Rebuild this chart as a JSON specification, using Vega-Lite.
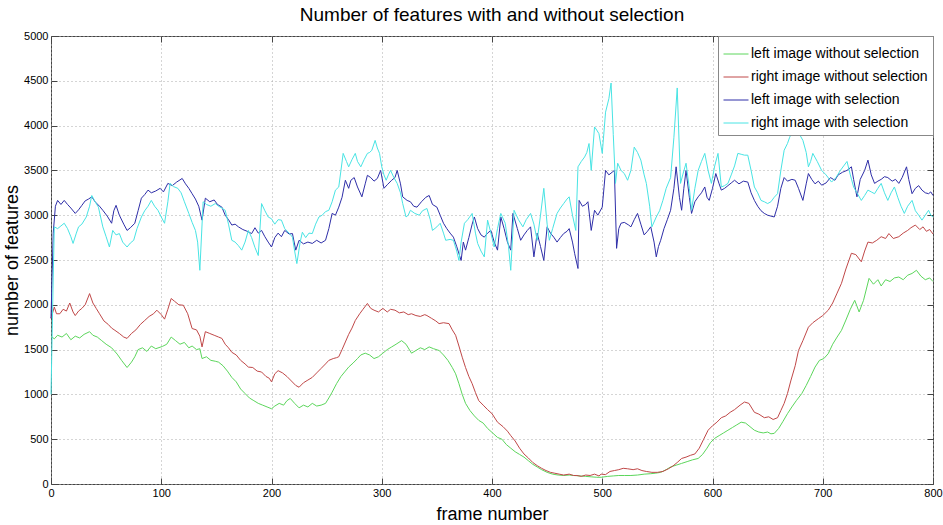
{
  "$schema": "https://vega.github.io/schema/vega-lite/v6.json",
  "width": 882,
  "height": 448,
  "autosize": {"type": "none"},
  "padding": {"left": 51, "top": 36, "right": 10, "bottom": 41},
  "background": "white",
  "title": {"text": "Number of features with and without selection", "fontSize": 19, "font": "Liberation Sans", "fontWeight": "normal", "color": "black", "offset": 5},
  "config": {
    "view": {"stroke": "#444", "strokeWidth": 1},
    "axis": {"labelFont": "Liberation Sans", "labelFontSize": 11, "labelColor": "black", "titleFont": "Liberation Sans", "titleFontSize": 18, "titleFontWeight": "normal", "titleColor": "black", "domain": false, "tickColor": "#444", "gridColor": "#aaa", "gridDash": [1, 3], "gridOpacity": 1, "format": "d", "labelFlush": false},
    "legend": {"labelFont": "Liberation Sans", "labelFontSize": 14, "labelColor": "black", "labelLimit": 400}
  },
  "datasets": {
    "green": [
      {"frame":0,"features":1650},{"frame":3,"features":1620},{"frame":6,"features":1660},{"frame":10,"features":1640},{"frame":14,"features":1680},{"frame":18,"features":1610},{"frame":22,"features":1650},{"frame":26,"features":1630},{"frame":30,"features":1670},{"frame":35,"features":1700},{"frame":38,"features":1660},{"frame":42,"features":1640},{"frame":46,"features":1600},{"frame":50,"features":1560},{"frame":55,"features":1520},{"frame":60,"features":1450},{"frame":64,"features":1380},{"frame":69,"features":1300},{"frame":73,"features":1360},{"frame":76,"features":1420},{"frame":79,"features":1500},{"frame":83,"features":1520},{"frame":87,"features":1480},{"frame":91,"features":1540},{"frame":95,"features":1510},{"frame":101,"features":1535},{"frame":105,"features":1560},{"frame":109,"features":1640},{"frame":113,"features":1600},{"frame":117,"features":1560},{"frame":121,"features":1580},{"frame":125,"features":1520},{"frame":128,"features":1540},{"frame":132,"features":1500},{"frame":135,"features":1510},{"frame":137,"features":1400},{"frame":141,"features":1420},{"frame":145,"features":1380},{"frame":149,"features":1370},{"frame":152,"features":1360},{"frame":156,"features":1320},{"frame":160,"features":1260},{"frame":164,"features":1190},{"frame":168,"features":1140},{"frame":172,"features":1060},{"frame":176,"features":1010},{"frame":180,"features":960},{"frame":184,"features":930},{"frame":188,"features":900},{"frame":192,"features":880},{"frame":196,"features":860},{"frame":200,"features":840},{"frame":203,"features":870},{"frame":207,"features":900},{"frame":211,"features":880},{"frame":214,"features":930},{"frame":217,"features":955},{"frame":221,"features":900},{"frame":225,"features":850},{"frame":229,"features":880},{"frame":233,"features":860},{"frame":237,"features":900},{"frame":241,"features":870},{"frame":245,"features":880},{"frame":249,"features":900},{"frame":252,"features":960},{"frame":255,"features":1025},{"frame":259,"features":1120},{"frame":263,"features":1200},{"frame":267,"features":1260},{"frame":270,"features":1305},{"frame":274,"features":1350},{"frame":278,"features":1400},{"frame":281,"features":1440},{"frame":285,"features":1460},{"frame":289,"features":1440},{"frame":293,"features":1400},{"frame":297,"features":1420},{"frame":301,"features":1460},{"frame":305,"features":1500},{"frame":309,"features":1530},{"frame":313,"features":1560},{"frame":318,"features":1600},{"frame":322,"features":1560},{"frame":327,"features":1460},{"frame":331,"features":1490},{"frame":335,"features":1520},{"frame":339,"features":1500},{"frame":343,"features":1530},{"frame":347,"features":1510},{"frame":352,"features":1490},{"frame":356,"features":1440},{"frame":360,"features":1380},{"frame":364,"features":1300},{"frame":367,"features":1230},{"frame":370,"features":1120},{"frame":373,"features":1000},{"frame":376,"features":900},{"frame":380,"features":820},{"frame":384,"features":760},{"frame":388,"features":710},{"frame":392,"features":680},{"frame":396,"features":620},{"frame":401,"features":565},{"frame":405,"features":520},{"frame":409,"features":500},{"frame":413,"features":440},{"frame":417,"features":400},{"frame":421,"features":360},{"frame":425,"features":330},{"frame":429,"features":300},{"frame":433,"features":260},{"frame":437,"features":220},{"frame":441,"features":190},{"frame":445,"features":160},{"frame":450,"features":130},{"frame":455,"features":110},{"frame":460,"features":100},{"frame":465,"features":95},{"frame":470,"features":100},{"frame":474,"features":95},{"frame":480,"features":90},{"frame":485,"features":85},{"frame":490,"features":80},{"frame":495,"features":75},{"frame":499,"features":75},{"frame":505,"features":85},{"frame":510,"features":90},{"frame":515,"features":95},{"frame":520,"features":95},{"frame":526,"features":95},{"frame":532,"features":100},{"frame":538,"features":110},{"frame":544,"features":115},{"frame":548,"features":120},{"frame":553,"features":130},{"frame":558,"features":160},{"frame":562,"features":190},{"frame":567,"features":210},{"frame":572,"features":230},{"frame":577,"features":250},{"frame":582,"features":270},{"frame":587,"features":285},{"frame":591,"features":330},{"frame":595,"features":400},{"frame":598,"features":460},{"frame":602,"features":510},{"frame":606,"features":540},{"frame":610,"features":570},{"frame":614,"features":600},{"frame":618,"features":630},{"frame":622,"features":660},{"frame":626,"features":690},{"frame":630,"features":680},{"frame":634,"features":640},{"frame":638,"features":600},{"frame":642,"features":580},{"frame":646,"features":570},{"frame":650,"features":580},{"frame":653,"features":560},{"frame":656,"features":565},{"frame":660,"features":620},{"frame":664,"features":700},{"frame":668,"features":785},{"frame":672,"features":860},{"frame":676,"features":930},{"frame":681,"features":1010},{"frame":685,"features":1100},{"frame":689,"features":1200},{"frame":693,"features":1305},{"frame":697,"features":1380},{"frame":701,"features":1400},{"frame":705,"features":1455},{"frame":709,"features":1560},{"frame":713,"features":1640},{"frame":717,"features":1715},{"frame":721,"features":1830},{"frame":725,"features":1950},{"frame":729,"features":2050},{"frame":733,"features":1920},{"frame":737,"features":2050},{"frame":742,"features":2295},{"frame":746,"features":2230},{"frame":750,"features":2280},{"frame":753,"features":2210},{"frame":757,"features":2280},{"frame":761,"features":2260},{"frame":765,"features":2300},{"frame":769,"features":2310},{"frame":773,"features":2280},{"frame":777,"features":2330},{"frame":781,"features":2350},{"frame":785,"features":2385},{"frame":789,"features":2320},{"frame":793,"features":2280},{"frame":797,"features":2300},{"frame":800,"features":2260}
    ],
    "red": [
      {"frame":0,"features":1850},{"frame":3,"features":1975},{"frame":5,"features":1900},{"frame":8,"features":1900},{"frame":11,"features":1950},{"frame":14,"features":1930},{"frame":17,"features":2020},{"frame":20,"features":1920},{"frame":22,"features":1880},{"frame":25,"features":1930},{"frame":28,"features":1960},{"frame":31,"features":2000},{"frame":35,"features":2125},{"frame":38,"features":2020},{"frame":41,"features":1960},{"frame":44,"features":1900},{"frame":48,"features":1820},{"frame":52,"features":1780},{"frame":55,"features":1740},{"frame":58,"features":1715},{"frame":62,"features":1680},{"frame":66,"features":1640},{"frame":69,"features":1625},{"frame":73,"features":1680},{"frame":77,"features":1720},{"frame":81,"features":1780},{"frame":85,"features":1825},{"frame":89,"features":1870},{"frame":93,"features":1900},{"frame":96,"features":1940},{"frame":100,"features":1890},{"frame":103,"features":1840},{"frame":106,"features":1950},{"frame":109,"features":2070},{"frame":112,"features":2040},{"frame":116,"features":2000},{"frame":120,"features":1995},{"frame":124,"features":1900},{"frame":128,"features":1735},{"frame":132,"features":1720},{"frame":135,"features":1650},{"frame":137,"features":1530},{"frame":140,"features":1700},{"frame":144,"features":1680},{"frame":148,"features":1660},{"frame":152,"features":1640},{"frame":155,"features":1625},{"frame":158,"features":1560},{"frame":161,"features":1520},{"frame":164,"features":1470},{"frame":168,"features":1440},{"frame":172,"features":1380},{"frame":176,"features":1340},{"frame":179,"features":1305},{"frame":183,"features":1300},{"frame":187,"features":1260},{"frame":191,"features":1250},{"frame":195,"features":1200},{"frame":198,"features":1180},{"frame":200,"features":1140},{"frame":203,"features":1230},{"frame":206,"features":1265},{"frame":210,"features":1240},{"frame":214,"features":1200},{"frame":218,"features":1150},{"frame":222,"features":1100},{"frame":225,"features":1080},{"frame":229,"features":1130},{"frame":233,"features":1160},{"frame":237,"features":1190},{"frame":241,"features":1240},{"frame":245,"features":1290},{"frame":249,"features":1340},{"frame":252,"features":1380},{"frame":256,"features":1400},{"frame":259,"features":1410},{"frame":261,"features":1420},{"frame":264,"features":1500},{"frame":267,"features":1585},{"frame":270,"features":1670},{"frame":273,"features":1740},{"frame":276,"features":1825},{"frame":280,"features":1900},{"frame":283,"features":1950},{"frame":287,"features":2015},{"frame":290,"features":1960},{"frame":293,"features":1940},{"frame":297,"features":1920},{"frame":301,"features":1960},{"frame":305,"features":1920},{"frame":308,"features":1950},{"frame":312,"features":1940},{"frame":316,"features":1910},{"frame":320,"features":1920},{"frame":324,"features":1890},{"frame":327,"features":1900},{"frame":331,"features":1880},{"frame":335,"features":1870},{"frame":339,"features":1890},{"frame":341,"features":1880},{"frame":345,"features":1850},{"frame":349,"features":1820},{"frame":352,"features":1790},{"frame":356,"features":1800},{"frame":361,"features":1790},{"frame":364,"features":1720},{"frame":367,"features":1660},{"frame":370,"features":1540},{"frame":373,"features":1415},{"frame":376,"features":1300},{"frame":379,"features":1200},{"frame":382,"features":1120},{"frame":385,"features":1020},{"frame":388,"features":930},{"frame":392,"features":880},{"frame":396,"features":830},{"frame":400,"features":785},{"frame":405,"features":690},{"frame":410,"features":640},{"frame":414,"features":590},{"frame":417,"features":540},{"frame":421,"features":480},{"frame":425,"features":400},{"frame":429,"features":335},{"frame":433,"features":290},{"frame":437,"features":240},{"frame":441,"features":205},{"frame":445,"features":175},{"frame":449,"features":150},{"frame":453,"features":130},{"frame":457,"features":120},{"frame":461,"features":110},{"frame":465,"features":100},{"frame":470,"features":110},{"frame":474,"features":95},{"frame":477,"features":95},{"frame":481,"features":85},{"frame":485,"features":100},{"frame":489,"features":95},{"frame":493,"features":110},{"frame":497,"features":90},{"frame":499,"features":110},{"frame":503,"features":105},{"frame":507,"features":140},{"frame":511,"features":150},{"frame":515,"features":160},{"frame":519,"features":175},{"frame":523,"features":170},{"frame":528,"features":160},{"frame":532,"features":170},{"frame":536,"features":150},{"frame":540,"features":140},{"frame":545,"features":130},{"frame":550,"features":130},{"frame":555,"features":140},{"frame":560,"features":170},{"frame":564,"features":200},{"frame":568,"features":240},{"frame":572,"features":285},{"frame":576,"features":300},{"frame":580,"features":320},{"frame":584,"features":335},{"frame":588,"features":400},{"frame":592,"features":500},{"frame":596,"features":600},{"frame":600,"features":650},{"frame":604,"features":690},{"frame":608,"features":740},{"frame":612,"features":760},{"frame":616,"features":800},{"frame":620,"features":830},{"frame":625,"features":880},{"frame":629,"features":915},{"frame":633,"features":900},{"frame":638,"features":800},{"frame":642,"features":780},{"frame":647,"features":740},{"frame":651,"features":750},{"frame":655,"features":720},{"frame":659,"features":740},{"frame":662,"features":820},{"frame":665,"features":900},{"frame":668,"features":1010},{"frame":671,"features":1150},{"frame":675,"features":1320},{"frame":678,"features":1490},{"frame":682,"features":1600},{"frame":687,"features":1750},{"frame":691,"features":1800},{"frame":696,"features":1845},{"frame":700,"features":1880},{"frame":705,"features":1940},{"frame":709,"features":2020},{"frame":713,"features":2130},{"frame":717,"features":2240},{"frame":721,"features":2400},{"frame":726,"features":2575},{"frame":730,"features":2560},{"frame":735,"features":2480},{"frame":738,"features":2600},{"frame":741,"features":2700},{"frame":745,"features":2690},{"frame":749,"features":2720},{"frame":753,"features":2760},{"frame":757,"features":2740},{"frame":760,"features":2795},{"frame":764,"features":2740},{"frame":769,"features":2760},{"frame":773,"features":2800},{"frame":777,"features":2830},{"frame":780,"features":2860},{"frame":784,"features":2890},{"frame":788,"features":2840},{"frame":791,"features":2870},{"frame":794,"features":2820},{"frame":797,"features":2840},{"frame":800,"features":2790}
    ],
    "blue": [
      {"frame":0,"features":1850},{"frame":2,"features":2800},{"frame":4,"features":3100},{"frame":6,"features":3165},{"frame":9,"features":3120},{"frame":12,"features":3165},{"frame":15,"features":3120},{"frame":18,"features":3080},{"frame":22,"features":3020},{"frame":25,"features":3060},{"frame":28,"features":3110},{"frame":31,"features":3160},{"frame":34,"features":3180},{"frame":37,"features":3205},{"frame":40,"features":3150},{"frame":44,"features":3100},{"frame":47,"features":3055},{"frame":51,"features":2990},{"frame":55,"features":2910},{"frame":57,"features":3050},{"frame":59,"features":3110},{"frame":62,"features":3000},{"frame":66,"features":2900},{"frame":69,"features":2830},{"frame":72,"features":2860},{"frame":76,"features":2910},{"frame":79,"features":3050},{"frame":82,"features":3190},{"frame":85,"features":3230},{"frame":88,"features":3280},{"frame":91,"features":3250},{"frame":95,"features":3270},{"frame":99,"features":3300},{"frame":102,"features":3260},{"frame":106,"features":3355},{"frame":110,"features":3330},{"frame":114,"features":3370},{"frame":119,"features":3410},{"frame":122,"features":3350},{"frame":125,"features":3300},{"frame":128,"features":3240},{"frame":131,"features":3180},{"frame":134,"features":3100},{"frame":137,"features":2945},{"frame":140,"features":3190},{"frame":144,"features":3150},{"frame":148,"features":3170},{"frame":151,"features":3120},{"frame":155,"features":3090},{"frame":158,"features":3000},{"frame":161,"features":2950},{"frame":164,"features":2890},{"frame":167,"features":2900},{"frame":170,"features":2870},{"frame":174,"features":2840},{"frame":178,"features":2820},{"frame":182,"features":2795},{"frame":185,"features":2860},{"frame":188,"features":2800},{"frame":191,"features":2830},{"frame":194,"features":2760},{"frame":197,"features":2700},{"frame":200,"features":2645},{"frame":203,"features":2750},{"frame":206,"features":2800},{"frame":209,"features":2760},{"frame":212,"features":2830},{"frame":216,"features":2790},{"frame":219,"features":2795},{"frame":222,"features":2610},{"frame":225,"features":2720},{"frame":229,"features":2680},{"frame":233,"features":2700},{"frame":237,"features":2685},{"frame":241,"features":2720},{"frame":245,"features":2690},{"frame":249,"features":2720},{"frame":252,"features":2850},{"frame":255,"features":3020},{"frame":258,"features":3000},{"frame":261,"features":3090},{"frame":264,"features":3200},{"frame":267,"features":3390},{"frame":270,"features":3300},{"frame":272,"features":3390},{"frame":275,"features":3420},{"frame":278,"features":3315},{"frame":282,"features":3205},{"frame":285,"features":3350},{"frame":287,"features":3445},{"frame":290,"features":3420},{"frame":293,"features":3380},{"frame":296,"features":3410},{"frame":299,"features":3500},{"frame":302,"features":3300},{"frame":305,"features":3340},{"frame":309,"features":3390},{"frame":312,"features":3420},{"frame":314,"features":3500},{"frame":317,"features":3350},{"frame":319,"features":3205},{"frame":323,"features":3165},{"frame":326,"features":3150},{"frame":329,"features":3100},{"frame":332,"features":3090},{"frame":336,"features":3150},{"frame":340,"features":3200},{"frame":343,"features":3220},{"frame":346,"features":3120},{"frame":350,"features":3090},{"frame":353,"features":3000},{"frame":356,"features":2910},{"frame":359,"features":2850},{"frame":362,"features":2800},{"frame":365,"features":2755},{"frame":368,"features":2650},{"frame":372,"features":2495},{"frame":374,"features":2700},{"frame":376,"features":2610},{"frame":379,"features":2750},{"frame":382,"features":2900},{"frame":384,"features":2980},{"frame":387,"features":2850},{"frame":390,"features":2780},{"frame":393,"features":2755},{"frame":396,"features":2800},{"frame":399,"features":2830},{"frame":402,"features":2700},{"frame":405,"features":2610},{"frame":408,"features":2980},{"frame":411,"features":2850},{"frame":414,"features":2700},{"frame":417,"features":2610},{"frame":419,"features":3020},{"frame":423,"features":2850},{"frame":426,"features":2720},{"frame":429,"features":2780},{"frame":432,"features":2830},{"frame":435,"features":2870},{"frame":438,"features":2535},{"frame":441,"features":2800},{"frame":444,"features":2650},{"frame":447,"features":2495},{"frame":450,"features":2870},{"frame":453,"features":2800},{"frame":456,"features":2755},{"frame":459,"features":2700},{"frame":462,"features":2750},{"frame":465,"features":2795},{"frame":468,"features":2820},{"frame":470,"features":2850},{"frame":473,"features":2700},{"frame":475,"features":2570},{"frame":478,"features":2405},{"frame":479,"features":3165},{"frame":482,"features":3100},{"frame":485,"features":3120},{"frame":487,"features":3150},{"frame":490,"features":2830},{"frame":493,"features":3055},{"frame":496,"features":3000},{"frame":500,"features":3090},{"frame":503,"features":3500},{"frame":506,"features":3450},{"frame":509,"features":3480},{"frame":511,"features":3500},{"frame":513,"features":2630},{"frame":515,"features":2850},{"frame":517,"features":2910},{"frame":520,"features":2920},{"frame":524,"features":2890},{"frame":526,"features":2870},{"frame":529,"features":2950},{"frame":532,"features":3020},{"frame":535,"features":2900},{"frame":538,"features":2780},{"frame":541,"features":2820},{"frame":544,"features":2870},{"frame":547,"features":2700},{"frame":549,"features":2535},{"frame":551,"features":2650},{"frame":553,"features":2720},{"frame":556,"features":2850},{"frame":559,"features":2950},{"frame":562,"features":3055},{"frame":565,"features":3300},{"frame":567,"features":3540},{"frame":570,"features":3200},{"frame":572,"features":3055},{"frame":574,"features":3300},{"frame":576,"features":3500},{"frame":579,"features":3200},{"frame":581,"features":3020},{"frame":584,"features":3150},{"frame":587,"features":3205},{"frame":590,"features":3250},{"frame":593,"features":3315},{"frame":595,"features":3200},{"frame":597,"features":3165},{"frame":600,"features":3300},{"frame":603,"features":3465},{"frame":606,"features":3350},{"frame":608,"features":3280},{"frame":611,"features":3300},{"frame":614,"features":3330},{"frame":617,"features":3360},{"frame":620,"features":3390},{"frame":624,"features":3350},{"frame":628,"features":3380},{"frame":632,"features":3370},{"frame":635,"features":3250},{"frame":638,"features":3165},{"frame":641,"features":3100},{"frame":644,"features":3050},{"frame":647,"features":3020},{"frame":650,"features":3000},{"frame":653,"features":2990},{"frame":656,"features":2980},{"frame":659,"features":3100},{"frame":662,"features":3300},{"frame":665,"features":3420},{"frame":668,"features":3380},{"frame":672,"features":3400},{"frame":675,"features":3390},{"frame":678,"features":3300},{"frame":682,"features":3165},{"frame":685,"features":3350},{"frame":687,"features":3465},{"frame":690,"features":3400},{"frame":693,"features":3350},{"frame":696,"features":3380},{"frame":699,"features":3335},{"frame":703,"features":3360},{"frame":707,"features":3420},{"frame":711,"features":3390},{"frame":714,"features":3450},{"frame":718,"features":3480},{"frame":722,"features":3500},{"frame":726,"features":3540},{"frame":728,"features":3400},{"frame":731,"features":3205},{"frame":734,"features":3400},{"frame":738,"features":3500},{"frame":741,"features":3615},{"frame":744,"features":3450},{"frame":747,"features":3355},{"frame":750,"features":3380},{"frame":753,"features":3400},{"frame":756,"features":3430},{"frame":759,"features":3420},{"frame":763,"features":3380},{"frame":766,"features":3400},{"frame":769,"features":3355},{"frame":772,"features":3420},{"frame":776,"features":3540},{"frame":778,"features":3400},{"frame":781,"features":3240},{"frame":784,"features":3300},{"frame":787,"features":3330},{"frame":790,"features":3280},{"frame":793,"features":3250},{"frame":796,"features":3240},{"frame":798,"features":3260},{"frame":800,"features":3220}
    ],
    "cyan": [
      {"frame":0,"features":1000},{"frame":2,"features":2300},{"frame":3,"features":2870},{"frame":6,"features":2850},{"frame":9,"features":2880},{"frame":12,"features":2910},{"frame":15,"features":2850},{"frame":18,"features":2760},{"frame":20,"features":2685},{"frame":23,"features":2800},{"frame":25,"features":2870},{"frame":28,"features":2900},{"frame":32,"features":2980},{"frame":35,"features":3100},{"frame":37,"features":3220},{"frame":40,"features":3150},{"frame":43,"features":3090},{"frame":45,"features":2980},{"frame":47,"features":2870},{"frame":50,"features":2760},{"frame":53,"features":2645},{"frame":56,"features":2830},{"frame":59,"features":2780},{"frame":62,"features":2795},{"frame":65,"features":2700},{"frame":69,"features":2645},{"frame":72,"features":2690},{"frame":75,"features":2720},{"frame":78,"features":2850},{"frame":82,"features":2980},{"frame":85,"features":3050},{"frame":88,"features":3100},{"frame":91,"features":3165},{"frame":94,"features":3100},{"frame":97,"features":3055},{"frame":100,"features":2980},{"frame":103,"features":2910},{"frame":106,"features":3150},{"frame":108,"features":3355},{"frame":111,"features":3320},{"frame":115,"features":3300},{"frame":118,"features":3250},{"frame":121,"features":3150},{"frame":125,"features":3020},{"frame":128,"features":2920},{"frame":131,"features":2830},{"frame":133,"features":2700},{"frame":135,"features":2385},{"frame":138,"features":3150},{"frame":141,"features":3120},{"frame":145,"features":3100},{"frame":149,"features":3130},{"frame":152,"features":3100},{"frame":155,"features":3080},{"frame":158,"features":3055},{"frame":161,"features":2900},{"frame":164,"features":2720},{"frame":167,"features":2700},{"frame":170,"features":2660},{"frame":173,"features":2610},{"frame":176,"features":2700},{"frame":179,"features":2830},{"frame":182,"features":2750},{"frame":185,"features":2640},{"frame":188,"features":2550},{"frame":191,"features":3130},{"frame":194,"features":3050},{"frame":197,"features":2980},{"frame":200,"features":2960},{"frame":203,"features":2900},{"frame":206,"features":2950},{"frame":209,"features":2945},{"frame":212,"features":2850},{"frame":216,"features":2800},{"frame":219,"features":2755},{"frame":221,"features":2600},{"frame":223,"features":2460},{"frame":226,"features":2700},{"frame":228,"features":2810},{"frame":231,"features":2750},{"frame":234,"features":2800},{"frame":237,"features":2795},{"frame":240,"features":2900},{"frame":243,"features":2980},{"frame":246,"features":3000},{"frame":249,"features":3040},{"frame":252,"features":3055},{"frame":255,"features":3150},{"frame":258,"features":3280},{"frame":261,"features":3315},{"frame":263,"features":3500},{"frame":265,"features":3690},{"frame":268,"features":3600},{"frame":270,"features":3540},{"frame":273,"features":3620},{"frame":276,"features":3690},{"frame":278,"features":3600},{"frame":281,"features":3540},{"frame":284,"features":3620},{"frame":287,"features":3690},{"frame":289,"features":3700},{"frame":291,"features":3725},{"frame":294,"features":3835},{"frame":296,"features":3750},{"frame":298,"features":3690},{"frame":300,"features":3540},{"frame":302,"features":3450},{"frame":304,"features":3390},{"frame":306,"features":3450},{"frame":308,"features":3500},{"frame":311,"features":3420},{"frame":314,"features":3355},{"frame":317,"features":3250},{"frame":319,"features":3130},{"frame":322,"features":2980},{"frame":324,"features":3000},{"frame":326,"features":3055},{"frame":330,"features":3020},{"frame":334,"features":3000},{"frame":337,"features":3050},{"frame":341,"features":3075},{"frame":344,"features":2950},{"frame":346,"features":2830},{"frame":350,"features":2870},{"frame":353,"features":2910},{"frame":356,"features":2800},{"frame":358,"features":2720},{"frame":362,"features":2730},{"frame":365,"features":2720},{"frame":368,"features":2600},{"frame":370,"features":2495},{"frame":372,"features":2700},{"frame":375,"features":2910},{"frame":378,"features":2950},{"frame":382,"features":3020},{"frame":385,"features":2800},{"frame":387,"features":2685},{"frame":390,"features":2600},{"frame":393,"features":2535},{"frame":396,"features":2945},{"frame":399,"features":2800},{"frame":402,"features":2645},{"frame":405,"features":2850},{"frame":408,"features":3020},{"frame":412,"features":2910},{"frame":415,"features":2650},{"frame":417,"features":2385},{"frame":420,"features":3055},{"frame":424,"features":2950},{"frame":428,"features":2870},{"frame":431,"features":2950},{"frame":435,"features":3020},{"frame":438,"features":2900},{"frame":441,"features":2720},{"frame":444,"features":3000},{"frame":447,"features":3300},{"frame":450,"features":2900},{"frame":452,"features":2720},{"frame":455,"features":2850},{"frame":459,"features":3020},{"frame":462,"features":3080},{"frame":465,"features":3130},{"frame":468,"features":3180},{"frame":470,"features":3205},{"frame":473,"features":3000},{"frame":476,"features":2830},{"frame":478,"features":3540},{"frame":481,"features":3600},{"frame":484,"features":3650},{"frame":486,"features":3700},{"frame":488,"features":3800},{"frame":490,"features":3500},{"frame":493,"features":3985},{"frame":495,"features":3950},{"frame":497,"features":3910},{"frame":500,"features":3690},{"frame":503,"features":4150},{"frame":506,"features":4300},{"frame":508,"features":4475},{"frame":510,"features":3900},{"frame":512,"features":3355},{"frame":514,"features":3580},{"frame":517,"features":3500},{"frame":520,"features":3465},{"frame":523,"features":3390},{"frame":526,"features":3500},{"frame":529,"features":3760},{"frame":532,"features":3700},{"frame":535,"features":3615},{"frame":538,"features":3450},{"frame":540,"features":3355},{"frame":543,"features":3100},{"frame":545,"features":2870},{"frame":549,"features":2980},{"frame":552,"features":3050},{"frame":555,"features":3165},{"frame":558,"features":3300},{"frame":562,"features":3420},{"frame":565,"features":3870},{"frame":568,"features":4420},{"frame":571,"features":3355},{"frame":573,"features":3450},{"frame":576,"features":3580},{"frame":579,"features":3300},{"frame":581,"features":3055},{"frame":584,"features":3300},{"frame":587,"features":3500},{"frame":590,"features":3600},{"frame":593,"features":3690},{"frame":596,"features":3500},{"frame":599,"features":3355},{"frame":602,"features":3550},{"frame":605,"features":3690},{"frame":608,"features":3315},{"frame":611,"features":3330},{"frame":614,"features":3355},{"frame":617,"features":3450},{"frame":620,"features":3550},{"frame":623,"features":3690},{"frame":626,"features":3680},{"frame":629,"features":3670},{"frame":632,"features":3670},{"frame":635,"features":3500},{"frame":638,"features":3315},{"frame":641,"features":3250},{"frame":644,"features":3165},{"frame":647,"features":3150},{"frame":650,"features":3130},{"frame":653,"features":3150},{"frame":656,"features":3200},{"frame":659,"features":3240},{"frame":662,"features":3500},{"frame":665,"features":3725},{"frame":668,"features":3800},{"frame":670,"features":3870},{"frame":673,"features":3950},{"frame":676,"features":4010},{"frame":679,"features":3900},{"frame":682,"features":3835},{"frame":685,"features":3700},{"frame":687,"features":3540},{"frame":689,"features":3600},{"frame":691,"features":3690},{"frame":695,"features":3600},{"frame":699,"features":3500},{"frame":703,"features":3450},{"frame":708,"features":3370},{"frame":712,"features":3420},{"frame":716,"features":3500},{"frame":719,"features":3550},{"frame":722,"features":3600},{"frame":725,"features":3450},{"frame":728,"features":3315},{"frame":731,"features":3250},{"frame":735,"features":3165},{"frame":738,"features":3220},{"frame":741,"features":3280},{"frame":744,"features":3260},{"frame":747,"features":3240},{"frame":750,"features":3300},{"frame":753,"features":3355},{"frame":756,"features":3250},{"frame":759,"features":3165},{"frame":762,"features":3250},{"frame":765,"features":3315},{"frame":768,"features":3200},{"frame":771,"features":3100},{"frame":774,"features":3020},{"frame":777,"features":3100},{"frame":781,"features":3165},{"frame":784,"features":3050},{"frame":787,"features":3000},{"frame":790,"features":2945},{"frame":793,"features":3000},{"frame":796,"features":3055},{"frame":798,"features":3000},{"frame":800,"features":2980}
    ]
  },
  "layer": [
    {
      "data": {"name": "green"},
      "mark": {"type": "line", "strokeWidth": 1, "interpolate": "linear"},
      "encoding": {
        "x": {"field": "frame", "type": "quantitative", "scale": {"domain": [0, 800], "nice": false, "zero": false},
              "axis": {"orient": "bottom", "values": [0,100,200,300,400,500,600,700,800], "title": "frame number", "grid": true, "tickSize": -6, "labelPadding": 9, "titleBaseline": "alphabetic", "titleY": 35}},
        "y": {"field": "features", "type": "quantitative", "scale": {"domain": [0, 5000], "nice": false},
              "axis": {"orient": "left", "values": [0,500,1000,1500,2000,2500,3000,3500,4000,4500,5000], "title": "number of features", "grid": true, "tickSize": -6, "labelPadding": 9, "titleBaseline": "alphabetic", "titleX": -34}},
        "color": {"datum": "left image without selection", "type": "nominal",
                  "scale": {"domain": ["left image without selection", "right image without selection", "left image with selection", "right image with selection"], "range": ["#5cd65c", "#c04848", "#2e2ea8", "#48e4e4"]},
                  "legend": {"title": null, "orient": "top-right", "offset": 0, "symbolType": "stroke", "symbolSize": 625, "symbolStrokeWidth": 1, "rowPadding": 3, "padding": 5, "strokeColor": "#888", "fillColor": "white", "labelOffset": 2}}
      }
    },
    {
      "data": {"name": "red"},
      "mark": {"type": "line", "strokeWidth": 1},
      "encoding": {
        "x": {"field": "frame", "type": "quantitative", "axis": {"orient": "top", "values": [0,100,200,300,400,500,600,700,800], "title": null, "labels": false, "grid": false, "tickSize": -6}},
        "y": {"field": "features", "type": "quantitative", "axis": {"orient": "right", "values": [0,500,1000,1500,2000,2500,3000,3500,4000,4500,5000], "title": null, "labels": false, "grid": false, "tickSize": -6}},
        "color": {"datum": "right image without selection", "type": "nominal"}
      }
    },
    {
      "data": {"name": "blue"},
      "mark": {"type": "line", "strokeWidth": 1},
      "encoding": {
        "x": {"field": "frame", "type": "quantitative", "axis": null},
        "y": {"field": "features", "type": "quantitative", "axis": null},
        "color": {"datum": "left image with selection", "type": "nominal"}
      }
    },
    {
      "data": {"name": "cyan"},
      "mark": {"type": "line", "strokeWidth": 1},
      "encoding": {
        "x": {"field": "frame", "type": "quantitative", "axis": null},
        "y": {"field": "features", "type": "quantitative", "axis": null},
        "color": {"datum": "right image with selection", "type": "nominal"}
      }
    }
  ],
  "resolve": {"axis": {"x": "independent", "y": "independent"}}
}
